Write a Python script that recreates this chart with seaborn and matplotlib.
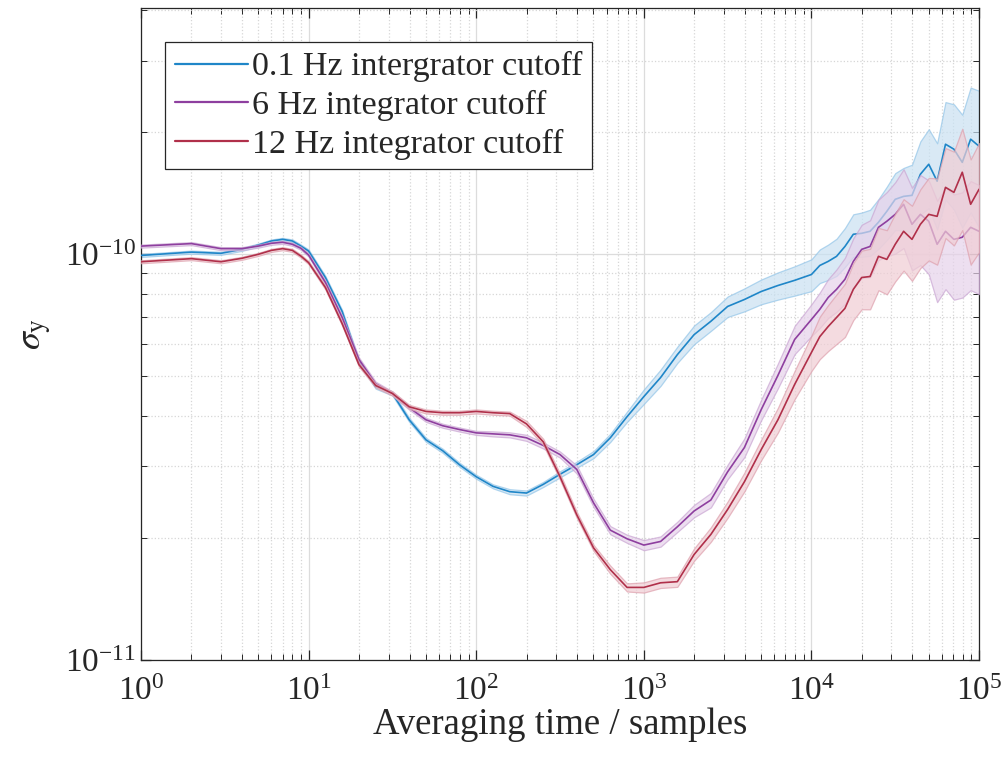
import numpy as np
import pandas as pd
import matplotlib
matplotlib.use('Agg')
import matplotlib.pyplot as plt
import seaborn as sns
from matplotlib.ticker import LogLocator, NullFormatter

# Averaging time (samples)
tau = [1, 2, 3, 4, 5, 6, 7, 8, 9, 10,
       12.59, 15.85, 19.95, 25.12, 31.62, 39.81, 50.12, 63.10, 79.43, 100,
       125.9, 158.5, 199.5, 251.2, 316.2, 398.1, 501.2, 631.0, 794.3, 1000,
       1259, 1585, 1995, 2512, 3162, 3981, 5012, 6310, 7943,
       10000, 11220, 12589, 14125, 15849, 17783, 19953, 22387, 25119, 28184,
       31623, 35481, 39811, 44668, 50119, 56234, 63096, 70795, 79433, 89125, 100000]

# Allan deviation, in units of 1e-10
sigma_01hz = [0.994, 1.013, 1.006, 1.029, 1.054, 1.079, 1.089, 1.079, 1.048, 1.019,
              0.877, 0.723, 0.545, 0.472, 0.454, 0.391, 0.349, 0.328, 0.303, 0.283,
              0.268, 0.260, 0.258, 0.271, 0.287, 0.303, 0.321, 0.353, 0.398, 0.446,
              0.497, 0.566, 0.634, 0.684, 0.744, 0.774, 0.810, 0.838, 0.863,
              0.892, 0.939, 0.961, 0.989, 1.046, 1.121, 1.127, 1.140, 1.200, 1.277,
              1.367, 1.390, 1.398, 1.576, 1.668, 1.515, 1.869, 1.817, 1.686, 1.923, 1.848]
sigma_6hz = [1.048, 1.063, 1.033, 1.033, 1.048, 1.065, 1.071, 1.059, 1.035, 0.996,
             0.853, 0.699, 0.551, 0.480, 0.454, 0.419, 0.391, 0.378, 0.370, 0.363,
             0.361, 0.359, 0.353, 0.338, 0.321, 0.295, 0.244, 0.209, 0.199, 0.192,
             0.196, 0.213, 0.233, 0.248, 0.291, 0.334, 0.414, 0.503, 0.617,
             0.691, 0.732, 0.783, 0.820, 0.868, 0.961, 1.029, 1.046, 1.166, 1.207,
             1.255, 1.329, 1.186, 1.255, 1.207, 1.059, 1.140, 1.089, 1.102, 1.166, 1.140]
sigma_12hz = [0.959, 0.976, 0.959, 0.978, 1.000, 1.023, 1.033, 1.023, 0.990, 0.954,
              0.829, 0.675, 0.535, 0.475, 0.454, 0.421, 0.410, 0.407, 0.407, 0.410,
              0.407, 0.405, 0.382, 0.345, 0.283, 0.228, 0.189, 0.167, 0.151, 0.151,
              0.155, 0.156, 0.182, 0.204, 0.235, 0.275, 0.330, 0.391, 0.478,
              0.573, 0.627, 0.664, 0.699, 0.736, 0.820, 0.877, 0.882, 0.989, 0.972,
              1.059, 1.140, 1.089, 1.186, 1.255, 1.241, 1.463, 1.422, 1.594, 1.329, 1.447]

# relative half-width of the shaded error band (sigma * (1 +/- err))
err_01hz = [0.0086] * 10 + [0.0086, 0.0086, 0.0114, 0.0114, 0.0114, 0.0114, 0.0114, 0.0114, 0.0114, 0.0114,
            0.0114, 0.0143, 0.0143, 0.0143, 0.0172, 0.0172, 0.020, 0.023, 0.029, 0.041,
            0.046, 0.046, 0.053, 0.053, 0.058, 0.065, 0.070, 0.077, 0.083,
            0.090, 0.095, 0.100, 0.105, 0.110, 0.120, 0.125, 0.130, 0.140, 0.150,
            0.160, 0.175, 0.190, 0.205, 0.220, 0.240, 0.270, 0.290, 0.310, 0.340, 0.370]
err_6hz = [0.0086] * 10 + [0.0114, 0.0114, 0.0114, 0.0114, 0.0114, 0.0114, 0.0114, 0.0114, 0.0114, 0.0114,
           0.0143, 0.0143, 0.0172, 0.0172, 0.0172, 0.023, 0.023, 0.023, 0.023, 0.029,
           0.029, 0.029, 0.035, 0.041, 0.041, 0.053, 0.058, 0.070, 0.080,
           0.090, 0.100, 0.110, 0.120, 0.130, 0.140, 0.150, 0.160, 0.170, 0.180,
           0.200, 0.220, 0.230, 0.250, 0.260, 0.280, 0.280, 0.290, 0.290, 0.300, 0.300]
err_12hz = [0.0086] * 10 + [0.0114, 0.0114, 0.0114, 0.0114, 0.0114, 0.0114, 0.0114, 0.0114, 0.0114, 0.0114,
            0.0114, 0.0114, 0.0172, 0.0172, 0.0172, 0.0172, 0.0172, 0.023, 0.023, 0.029,
            0.029, 0.029, 0.035, 0.041, 0.046, 0.053, 0.058, 0.070, 0.080,
            0.100, 0.120, 0.130, 0.140, 0.150, 0.160, 0.165, 0.170, 0.175, 0.180,
            0.190, 0.200, 0.210, 0.220, 0.230, 0.240, 0.250, 0.260, 0.280, 0.290, 0.300]

labels = ['0.1 Hz intergrator cutoff', '6 Hz integrator cutoff', '12 Hz integrator cutoff']
colors = ['#1f86c8', '#8e3f9f', '#b0304a']
fill_colors = ['#c9e1f2', '#e6d2ea', '#f0cdd4']
edge_colors = ['#93c5e8', '#caa6d3', '#dea0ad']

sns.set_style('ticks')
plt.rcParams['font.family'] = ['Liberation Serif', 'DejaVu Serif']
plt.rcParams['mathtext.fontset'] = 'stix'

fig = plt.figure(figsize=(10.03, 7.67), dpi=100)
ax = fig.add_axes([0.1406, 0.1395, 0.8355, 0.8501])

series = [(sigma_01hz, err_01hz), (sigma_6hz, err_6hz), (sigma_12hz, err_12hz)]
for i, ((s, e), lab) in enumerate(zip(series, labels)):
    s = np.array(s) * 1e-10
    e = np.array(e)
    # band first, then the mean line, so later series sit over earlier ones
    ax.fill_between(tau, s * (1 - e), s * (1 + e), facecolor=fill_colors[i], alpha=0.7,
                    edgecolor=edge_colors[i], linewidth=0.9, zorder=2 + 2 * i)
    df = pd.DataFrame({'tau': tau, 'sigma': s})
    sns.lineplot(data=df, x='tau', y='sigma', color=colors[i], label=lab,
                 estimator=None, sort=False, linewidth=1.2, ax=ax, zorder=3 + 2 * i)

ax.set_xscale('log')
ax.set_yscale('log')
ax.set_xlim(1, 1e5)
ax.set_ylim(1e-11, 4.05e-10)
ax.set_xticks([1, 10, 100, 1e3, 1e4, 1e5])
ax.set_yticks([1e-11, 1e-10])
ax.yaxis.set_minor_locator(LogLocator(base=10, subs=np.arange(2, 10), numticks=20))
ax.xaxis.set_minor_locator(LogLocator(base=10, subs=np.arange(2, 10), numticks=20))
ax.yaxis.set_minor_formatter(NullFormatter())
ax.xaxis.set_minor_formatter(NullFormatter())

ax.grid(which='major', color='#dcdcdc', linestyle='-', linewidth=0.9)
ax.grid(which='minor', color='#d6d6d6', linestyle=':', linewidth=0.9)
ax.set_axisbelow(True)

ax.tick_params(which='both', direction='in', top=True, right=True, colors='#262626',
               labelsize=24, labelcolor='#262626')
ax.tick_params(which='major', length=7, width=0.9)
ax.tick_params(which='minor', length=4, width=0.7)
ax.tick_params(axis='x', pad=12)
for sp in ax.spines.values():
    sp.set_color('#262626')
    sp.set_linewidth(0.9)

ax.set_xlabel('Averaging time / samples', fontsize=26.5, color='#262626', labelpad=0)
ax.set_ylabel(r'$\sigma_{\rm y}$', fontsize=26, color='#262626', labelpad=8)

leg = ax.legend(loc='upper left', bbox_to_anchor=(0.0286, 0.948), borderaxespad=0,
                fontsize=24.5, frameon=True, fancybox=False, framealpha=1,
                edgecolor='#262626', handlelength=2.15, handletextpad=0.12,
                labelspacing=0.22, borderpad=0.28)
leg.get_frame().set_linewidth(0.9)
leg.set_zorder(10)
for line in leg.get_lines():
    line.set_linewidth(1.6)

fig.savefig('out.png', dpi=100)
